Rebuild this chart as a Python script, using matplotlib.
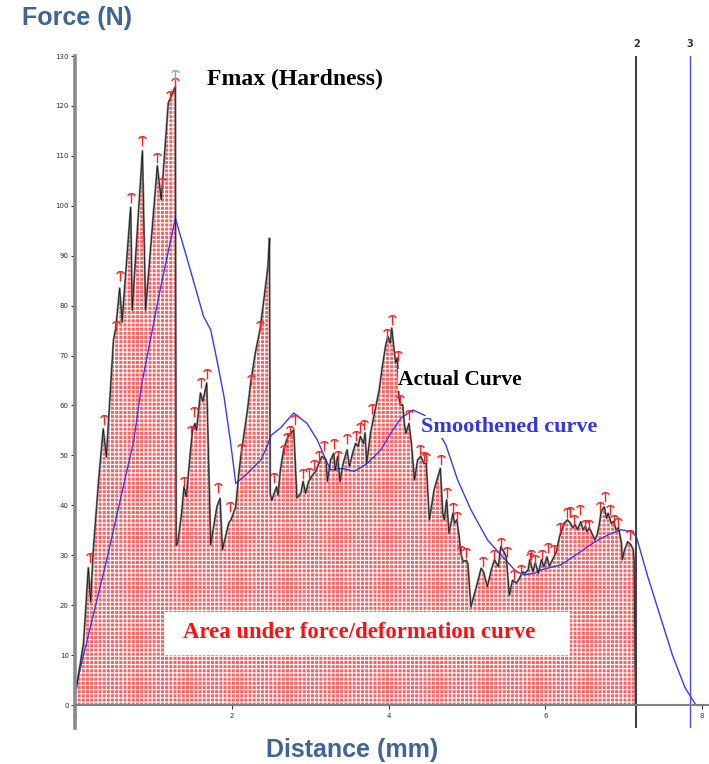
import matplotlib
matplotlib.use("Agg")
import matplotlib.pyplot as plt
import numpy as np
from matplotlib.path import Path
from matplotlib.patches import Rectangle

# texture analyser trace: distance (mm) vs force (N)
dist_actual = [
    0.00, 0.02, 0.11, 0.17, 0.20, 0.23, 0.30, 0.36, 0.40, 0.49, 0.52, 0.57, 0.60,
    0.71, 0.73, 0.86, 0.90, 1.05, 1.10, 1.19, 1.28, 1.29, 1.31, 1.36, 1.39, 1.42,
    1.47, 1.50, 1.53, 1.55, 1.60, 1.63, 1.68, 1.73, 1.81, 1.85, 1.88, 1.96, 1.99,
    2.05, 2.09, 2.12, 2.20, 2.24, 2.30, 2.36, 2.43, 2.46, 2.48, 2.49, 2.51, 2.54,
    2.57, 2.59, 2.62, 2.66, 2.70, 2.73, 2.79, 2.83, 2.88, 2.91, 2.94, 2.98, 3.03,
    3.07, 3.11, 3.15, 3.20, 3.22, 3.26, 3.30, 3.32, 3.35, 3.38, 3.42, 3.47, 3.50,
    3.54, 3.58, 3.61, 3.64, 3.68, 3.70, 3.72, 3.77, 3.82, 3.88, 3.92, 3.96, 3.99,
    4.02, 4.04, 4.07, 4.09, 4.11, 4.12, 4.13, 4.15, 4.18, 4.20, 4.22, 4.26, 4.29,
    4.33, 4.37, 4.41, 4.45, 4.48, 4.52, 4.58, 4.66, 4.69, 4.71, 4.74, 4.77, 4.82,
    4.84, 4.87, 4.90, 4.92, 4.95, 4.99, 5.01, 5.05, 5.12, 5.18, 5.21, 5.26, 5.31,
    5.35, 5.40, 5.43, 5.48, 5.50, 5.54, 5.58, 5.63, 5.67, 5.71, 5.74, 5.78, 5.80,
    5.84, 5.87, 5.91, 5.95, 5.98, 6.02, 6.05, 6.10, 6.14, 6.18, 6.20, 6.24, 6.28,
    6.32, 6.35, 6.38, 6.41, 6.45, 6.48, 6.51, 6.53, 6.56, 6.60, 6.63, 6.66, 6.69,
    6.71, 6.75, 6.78, 6.80, 6.84, 6.87, 6.90, 6.93, 6.95, 6.97, 6.98, 7.01, 7.05,
    7.09, 7.12, 7.13, 7.15,
]
force_actual = [
    3.0, 3.5, 12.6, 27.5, 20.6, 30.3, 44.8, 55.3, 49.7, 73.0, 75.5, 83.5, 76.7,
    99.7, 79.1, 111.0, 79.1, 108.0, 101.2, 120.6, 123.9, 32.0, 32.4, 38.4, 43.7, 41.7,
    50.4, 55.1, 56.4, 55.0, 62.5, 60.8, 64.5, 32.1, 39.7, 41.4, 31.1, 36.4, 37.1,
    39.7, 46.4, 50.4, 59.1, 64.5, 70.5, 75.2, 83.8, 87.8, 93.5, 42.4, 41.0, 42.4,
    43.7, 42.0, 47.1, 51.1, 53.1, 54.1, 55.1, 41.5, 42.4, 44.8, 42.4, 44.8, 46.1,
    46.8, 48.4, 49.8, 49.1, 44.8, 49.1, 50.4, 47.0, 49.8, 44.8, 48.4, 51.1, 47.8,
    50.4, 52.4, 51.8, 53.8, 52.4, 54.5, 48.4, 54.5, 58.5, 63.1, 67.8, 71.8, 73.8,
    72.5, 75.5, 71.1, 68.5, 69.5, 67.1, 61.8, 60.1, 60.1, 56.4, 54.4, 56.4, 52.4,
    45.1, 49.1, 49.8, 48.4, 48.4, 37.1, 43.1, 47.4, 38.4, 37.1, 41.1, 34.4, 38.4,
    36.4, 37.1, 33.7, 30.4, 28.7, 29.0, 28.4, 19.7, 23.7, 27.4, 26.7, 23.7, 27.1,
    29.1, 27.7, 31.7, 30.4, 29.7, 22.0, 25.0, 24.4, 25.4, 26.7, 26.4, 27.1, 29.1,
    26.7, 28.5, 26.4, 29.1, 27.7, 29.7, 27.8, 29.4, 30.7, 33.7, 34.7, 36.4, 37.1,
    36.4, 35.5, 36.1, 35.1, 36.7, 35.1, 35.8, 34.7, 35.5, 34.1, 33.1, 34.1, 36.4,
    38.7, 39.7, 37.4, 38.4, 36.4, 36.8, 35.1, 35.5, 34.1, 32.4, 29.1, 31.1, 32.7,
    32.1, 31.1, 29.1, 0.0,
]

dist_smooth = [
    0.00, 0.02, 0.40, 0.75, 0.85, 1.09, 1.28, 1.47, 1.64, 1.73, 1.81, 1.90, 1.98,
    2.05, 2.20, 2.37, 2.45, 2.50, 2.62, 2.79, 2.96, 3.09, 3.20, 3.26, 3.41, 3.56,
    3.73, 3.90, 4.03, 4.16, 4.31, 4.45, 4.56, 4.73, 4.88, 5.05, 5.26, 5.43, 5.63,
    5.73, 5.86, 5.95, 6.20, 6.42, 6.63, 6.84, 6.97, 7.10, 7.16, 7.30, 7.45, 7.62,
    7.78, 7.92,
]
force_smooth = [
    3.5, 4.3, 28.8, 53.0, 64.2, 83.5, 97.5, 87.2, 77.8, 75.2, 69.1, 61.8, 53.1,
    44.4, 46.4, 49.1, 51.8, 54.0, 55.5, 58.5, 56.4, 53.1, 49.1, 47.1, 47.4, 46.8,
    48.4, 51.1, 54.5, 57.5, 59.1, 58.1, 56.8, 52.1, 45.1, 39.1, 33.1, 30.1, 26.7,
    26.1, 26.4, 27.1, 28.1, 30.4, 32.7, 34.4, 35.1, 34.7, 33.7, 26.0, 18.5, 10.0,
    3.5, 0.0,
]

# detected force peaks (marker positions)
peak_x = [
    0.19, 0.37, 0.52, 0.57, 0.71, 0.86, 1.05, 1.11, 1.21, 1.28,
    1.385, 1.48, 1.52, 1.61, 1.68, 1.83, 1.98, 2.12, 2.24, 2.36, 2.54, 2.66, 2.71,
    2.74, 2.80, 2.91, 2.98, 3.05, 3.11, 3.18, 3.30, 3.35, 3.47, 3.58, 3.64, 3.68,
    3.79, 3.98, 4.04, 4.12, 4.15, 4.26, 4.40, 4.45, 4.48, 4.67, 4.75, 4.82, 4.87,
    4.92, 4.99, 5.20, 5.34, 5.43, 5.51, 5.60, 5.69, 5.80, 5.82, 5.87, 5.95, 6.03,
    6.11, 6.19, 6.28, 6.31, 6.37, 6.44, 6.50, 6.56, 6.70, 6.76, 6.82, 6.88, 6.93,
    7.08,
]
peak_y = [
    29.5, 57.0, 76.0, 86.0, 101.5, 113.0, 109.5, 104.5, 122.0, 124.5,
    44.7, 54.8, 58.6, 64.5, 66.3, 43.4, 39.7, 51.2, 65.1, 76.0, 45.4, 51.1, 53.4,
    54.8, 57.1, 46.3, 46.4, 48.1, 49.8, 51.8, 52.3, 49.8, 53.2, 53.8, 55.4, 56.1,
    59.3, 74.3, 77.2, 70.0, 61.0, 58.1, 51.1, 49.6, 49.4, 49.1, 42.4, 39.4, 37.7,
    30.9, 30.4, 28.7, 30.1, 32.5, 30.7, 26.1, 27.1, 29.4, 30.1, 29.1, 30.1, 31.4,
    31.1, 35.4, 38.4, 38.7, 37.1, 39.1, 36.1, 36.1, 39.7, 41.7, 39.1, 37.1, 36.4,
    34.1,
]
fmax_x, fmax_y = 1.27, 126.2

cursor_x = [7.16, 7.84]
cursor_labels = ["2", "3"]

x_ticks = [0, 2, 4, 6, 8]
y_ticks = list(range(0, 131, 10))

plt.rcParams["hatch.linewidth"] = 0.8

fig = plt.figure(figsize=(7.09, 7.64), dpi=100)
ax = fig.add_axes([0.1058, 0.0471, 0.8935, 0.8796])
ax.set_xlim(0, 8.08)
ax.set_ylim(-4.6, 130)

# area under the curve
ax.fill_between(dist_actual, 0, force_actual, facecolor="#ff6060",
                edgecolor="white", hatch="++++", linewidth=0, zorder=1)

ax.add_patch(Rectangle((1.15, 10.0), 5.16, 8.6, facecolor="white",
                       edgecolor="none", zorder=2))

ax.plot(dist_actual, force_actual, color="#7a7a7a", lw=1.5, zorder=3)
ax.plot(dist_actual, force_actual, color="#111111", lw=0.5, zorder=4)
ax.plot(dist_smooth, force_smooth, color="#3a3af0", lw=1.0, zorder=3)

# peak markers: little umbrella-topped stems
tee = Path(
    [(-0.8, 0.55), (-0.45, 0.92), (0.0, 1.0), (0.45, 0.92), (0.8, 0.55),
     (0.0, 1.0), (0.0, -1.0)],
    [Path.MOVETO, Path.LINETO, Path.LINETO, Path.LINETO, Path.LINETO,
     Path.MOVETO, Path.LINETO],
)
ax.plot(peak_x, peak_y, ls="none", marker=tee, ms=7, mew=1.0,
        mec="#ff2020", mfc="none", zorder=5)
ax.plot([fmax_x], [fmax_y], ls="none", marker=tee, ms=7, mew=1.0,
        mec="#a0a0a0", mfc="none", zorder=5)

# cursors
ax.axvline(cursor_x[0], color="#3c3c3c", lw=1.4, zorder=6)
ax.axvline(cursor_x[1], color="#4a4aff", lw=1.0, zorder=6)
for cx, lab in zip(cursor_x, cursor_labels):
    ax.text(cx, 132.4, lab, ha="center", va="center", fontsize=7,
            fontweight="bold", color="#333333", clip_on=False)

# spines / ticks
for s in ("top", "right"):
    ax.spines[s].set_visible(False)
ax.spines["bottom"].set_position(("data", 0))
ax.spines["bottom"].set_color("#808080")
ax.spines["bottom"].set_linewidth(1.5)
ax.spines["bottom"].set_zorder(7)
ax.spines["left"].set_color("#8a8a8a")
ax.spines["left"].set_linewidth(2.6)
ax.spines["left"].set_zorder(7)
ax.set_xticks(x_ticks)
ax.set_yticks(y_ticks)
ax.tick_params(axis="both", labelsize=5, colors="#333333", length=3,
               width=0.8, pad=1.5)
ax.tick_params(axis="x", pad=3)

serif = "Liberation Serif"
ax.text(2.81, 125.3, "Fmax (Hardness)", ha="center", va="center",
        fontsize=17, fontweight="bold", family=serif, color="black", zorder=8)
ax.text(4.91, 65.1, "Actual Curve", ha="center", va="center",
        fontsize=15.5, fontweight="bold", family=serif, color="black", zorder=8,
        bbox=dict(facecolor="white", edgecolor="none", pad=0.5))
ax.text(5.54, 55.7, "Smoothened curve", ha="center", va="center",
        fontsize=16, fontweight="bold", family=serif, color="#3535e8", zorder=8,
        bbox=dict(facecolor="white", edgecolor="none", pad=1.0))
ax.text(3.62, 14.6, "Area under force/deformation curve", ha="center",
        va="center", fontsize=16.4, fontweight="bold", family=serif,
        color="#ff1010", zorder=8)

fig.text(0.031, 0.977, "Force (N)", ha="left", va="center", fontsize=18,
         fontweight="bold", family="Liberation Sans", color="#3d6597")
fig.text(0.497, 0.018, "Distance (mm)", ha="center", va="center",
         fontsize=18, fontweight="bold", family="Liberation Sans",
         color="#3d6597")

fig.savefig("out.png", dpi=100)
